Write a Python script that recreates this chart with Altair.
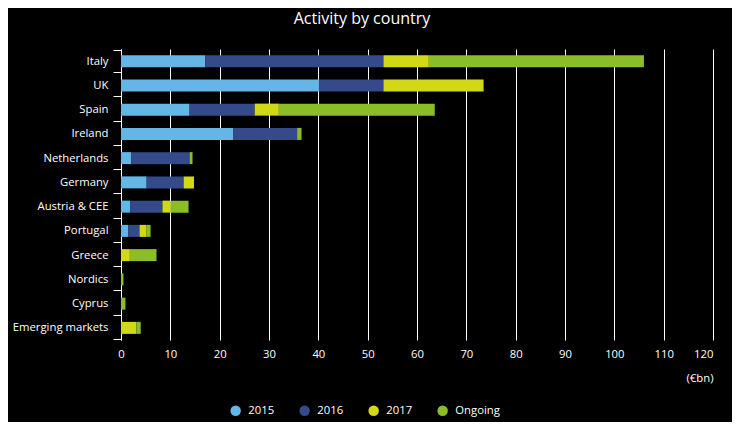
import altair as alt
import pandas as pd

countries = ["Italy", "UK", "Spain", "Ireland", "Netherlands", "Germany",
             "Austria & CEE", "Portugal", "Greece", "Nordics", "Cyprus", "Emerging markets"]
series = ["2015", "2016", "2017", "Ongoing"]
v2015 = [17.1, 40.1, 13.9, 22.8, 2.1, 5.2, 1.9, 1.5, 0, 0, 0, 0]
v2016 = [36.1, 13.1, 13.2, 12.9, 11.8, 7.5, 6.5, 2.25, 0, 0, 0, 0]
v2017 = [9.2, 20.3, 4.9, 0, 0, 2.1, 1.6, 1.45, 1.8, 0, 0, 3.1]
vongoing = [43.6, 0, 31.6, 0.9, 0.6, 0, 3.7, 0.8, 5.4, 0.5, 0.9, 0.9]
colors = ["#64b6e6", "#354a8b", "#d1d917", "#8abd27"]
x_ticks = [0, 10, 20, 30, 40, 50, 60, 70, 80, 90, 100, 110, 120]

rows = []
for vals, s in zip([v2015, v2016, v2017, vongoing], series):
    for c, v in zip(countries, vals):
        rows.append({"country": c, "series": s, "value": v, "order": series.index(s)})
df = pd.DataFrame(rows)

FONT = "Open Sans"
FS = 11.3

chart = alt.Chart(df).mark_bar(size=12).encode(
    y=alt.Y("country:N", sort=countries, title=None,
            axis=alt.Axis(tickBand="extent", domainColor="white", tickColor="white",
                          tickSize=8, labelPadding=5, labelColor="white",
                          labelFont=FONT, labelFontSize=FS, grid=False)),
    x=alt.X("value:Q", stack="zero", title="(€bn)",
            scale=alt.Scale(domain=[0, 120], nice=False),
            axis=alt.Axis(values=x_ticks, grid=True, gridColor="white", gridOpacity=1,
                          domain=False, ticks=False, labelPadding=8, labelColor="white",
                          labelFont=FONT, labelFontSize=FS, labelFlush=False,
                          labelAlign={"condition": {"test": "datum.value == 120", "value": "right"},
                                      "value": "center"},
                          titleColor="white",
                          titleFont=FONT, titleFontSize=FS, titleFontWeight="normal",
                          titleAnchor="end", titleAlign="right", titleX=592, titleY=38,
                          titleBaseline="middle")),
    color=alt.Color("series:N", sort=series,
                    scale=alt.Scale(domain=series, range=colors),
                    legend=alt.Legend(title=None, orient="none", direction="horizontal",
                                      legendX=109, legendY=356, symbolType="circle",
                                      symbolSize=110, symbolStrokeWidth=0,
                                      labelColor="white", labelFont=FONT, labelFontSize=FS,
                                      columnPadding=24, labelOffset=7)),
    order=alt.Order("order:Q"),
).properties(
    width=592, height=291,
    title=alt.TitleParams("Activity by country", color="white", font=FONT, fontSize=16,
                          fontWeight="normal", anchor="middle", dx=-55, dy=-12),
    autosize=alt.AutoSizeParams(type="none"),
    padding={"left": 113, "top": 41, "right": 19, "bottom": 82},
    background="black",
).configure_view(strokeWidth=0)

chart.save("out.html", embed_options={"renderer": "svg", "actions": False})
